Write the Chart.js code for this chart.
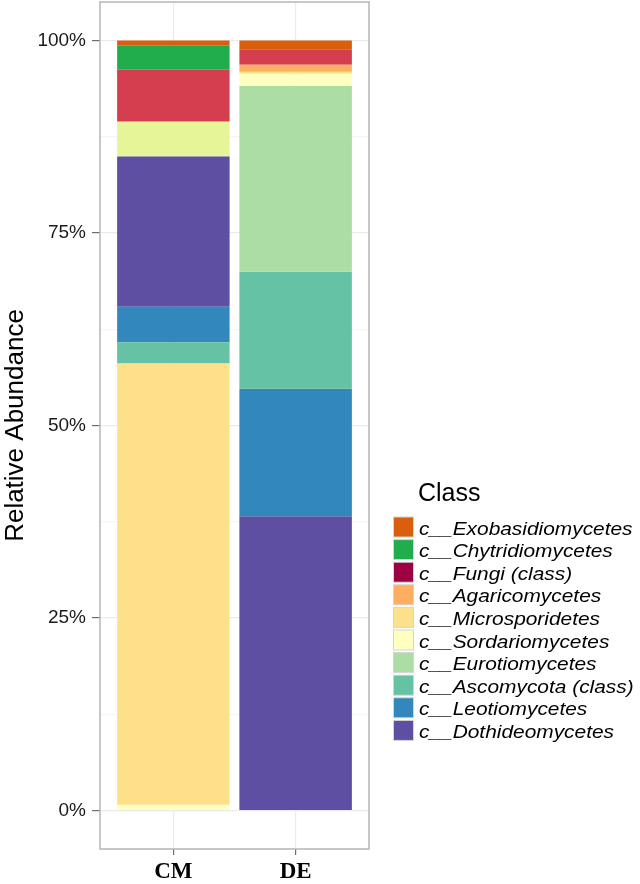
<!DOCTYPE html>
<html>
<head>
<meta charset="utf-8">
<script src="https://cdn.jsdelivr.net/npm/chart.js@4.4.1/dist/chart.umd.min.js"></script>
<style>
  html, body { margin: 0; padding: 0; background: #fff; }
  #chart { display: block; }
</style>
</head>
<body>
<canvas id="chart" width="640" height="884"></canvas>
<script>
const categories = ['CM', 'DE'];

// classes in legend order (top to bottom); the last two are in the bars but not in the legend
const classNames = [
  'c__Exobasidiomycetes', 'c__Chytridiomycetes', 'c__Fungi (class)', 'c__Agaricomycetes',
  'c__Microsporidetes', 'c__Sordariomycetes', 'c__Eurotiomycetes', 'c__Ascomycota (class)',
  'c__Leotiomycetes', 'c__Dothideomycetes', 'unlisted 1', 'unlisted 2'
];
const classColors = [
  '#d95f0e', '#22ad4c', '#9e0142', '#fdae61', '#fee08b', '#ffffbf',
  '#abdda4', '#66c2a5', '#3288bd', '#5e4fa2', '#d53e4f', '#e6f598'
];
const legendCount = 10;
const legendTitle = 'Class';

// relative abundance in %, one value per class
const cmValues = [0.68, 3.12, 0, 0, 57.30, 0.74, 0, 2.77, 4.60, 19.52, 6.71, 4.56];
const deValues = [1.15, 0, 0, 0.91, 0.21, 1.61, 24.15, 15.19, 16.56, 38.22, 2.00, 0];

// stacking order inside each bar, bottom to top (indexes into classNames)
const cmOrder = [5, 4, 7, 8, 9, 11, 10, 1, 0];
const deOrder = [9, 8, 7, 6, 5, 4, 3, 10, 0];

const yTicks = [0, 25, 50, 75, 100];
const yTickLabels = ['0%', '25%', '50%', '75%', '100%'];

function stackRanges(values, order) {
  const ranges = new Array(values.length).fill(null);
  let base = 0;
  order.forEach(i => {
    ranges[i] = [base, base + values[i]];
    base += values[i];
  });
  return ranges;
}

const cmRanges = stackRanges(cmValues, cmOrder);
const deRanges = stackRanges(deValues, deOrder);

const datasets = classNames.map((name, i) => ({
  label: name,
  backgroundColor: classColors[i],
  borderWidth: 0,
  data: [cmRanges[i], deRanges[i]]
    .map((r, j) => r ? {x: j + 1, y: r} : null)
    .filter(Boolean)
}));

// minor grid lines halfway between the major ones
const yMinor = yTicks.slice(1).map((v, i) => (v + yTicks[i]) / 2);

const panelBorder = {
  id: 'panelBorder',
  afterDatasetsDraw(chart) {
    const {ctx, chartArea} = chart;
    ctx.save();
    ctx.strokeStyle = '#b5b5b5';
    ctx.lineWidth = 1.5;
    ctx.strokeRect(chartArea.left, chartArea.top, chartArea.right - chartArea.left, chartArea.bottom - chartArea.top);
    ctx.restore();
  }
};

const classLegend = {
  id: 'classLegend',
  afterDraw(chart) {
    const ctx = chart.ctx;
    ctx.save();
    ctx.fillStyle = '#000';
    ctx.textBaseline = 'alphabetic';
    ctx.font = '25px "Liberation Sans", Arial, sans-serif';
    ctx.fillText(legendTitle, 418, 501);
    ctx.font = 'italic 18px "Liberation Sans", Arial, sans-serif';
    for (let i = 0; i < legendCount; i++) {
      const top = 517 + i * 22.6;
      ctx.fillStyle = classColors[i];
      ctx.fillRect(393.5, top, 20, 20);
      ctx.strokeStyle = '#d4d4d4';
      ctx.lineWidth = 1;
      ctx.strokeRect(393.5, top, 20, 20);
      ctx.save();
      ctx.translate(419, top + 17.6);
      ctx.scale(1.16, 1);
      ctx.fillStyle = '#000';
      ctx.fillText(classNames[i], 0, 0);
      ctx.restore();
    }
    ctx.restore();
  }
};

new Chart(document.getElementById('chart'), {
  type: 'bar',
  data: { datasets: datasets },
  options: {
    responsive: false,
    animation: false,
    grouped: false,
    barPercentage: 0.92,
    categoryPercentage: 1,
    layout: { padding: { top: 2, right: 271, left: 0, bottom: 0 } },
    plugins: {
      legend: { display: false },
      tooltip: { enabled: false }
    },
    scales: {
      x: {
        type: 'linear',
        min: 0.4,
        max: 2.6,
        offset: false,
        afterBuildTicks: s => { s.ticks = categories.map((c, i) => ({value: i + 1})); },
        afterFit: s => { s.height = 35; s.paddingLeft = 0; s.paddingRight = 0; },
        border: { display: false },
        grid: { offset: false, color: '#ebebeb', lineWidth: 1.2, tickLength: 6, tickColor: '#6e6e6e' },
        ticks: {
          autoSkip: false,
          maxRotation: 0,
          padding: 3,
          color: '#000',
          font: { family: '"Liberation Serif", "Times New Roman", serif', size: 23, weight: 'bold' },
          callback: v => categories[v - 1]
        }
      },
      y: {
        min: -5,
        max: 105,
        afterBuildTicks: s => {
          s.ticks = yTicks.concat(yMinor).sort((a, b) => a - b).map(v => ({value: v}));
        },
        afterFit: s => { s.width = 100; s.paddingTop = 0; s.paddingBottom = 0; },
        border: { display: false },
        grid: {
          color: c => yTicks.includes(c.tick.value) ? '#ebebeb' : '#f5f5f5',
          lineWidth: 1.2,
          tickLength: 8,
          tickColor: c => yTicks.includes(c.tick.value) ? '#6e6e6e' : 'rgba(0,0,0,0)'
        },
        ticks: {
          autoSkip: false,
          padding: 6,
          color: '#1a1a1a',
          font: { family: '"Liberation Sans", Arial, sans-serif', size: 19 },
          callback: v => {
            const k = yTicks.indexOf(v);
            return k >= 0 ? yTickLabels[k] : '';
          }
        },
        title: {
          display: true,
          text: 'Relative Abundance',
          color: '#000',
          padding: { top: 0, bottom: 0 },
          font: { family: '"Liberation Sans", Arial, sans-serif', size: 26 }
        }
      }
    }
  },
  plugins: [panelBorder, classLegend]
});
</script>
</body>
</html>
